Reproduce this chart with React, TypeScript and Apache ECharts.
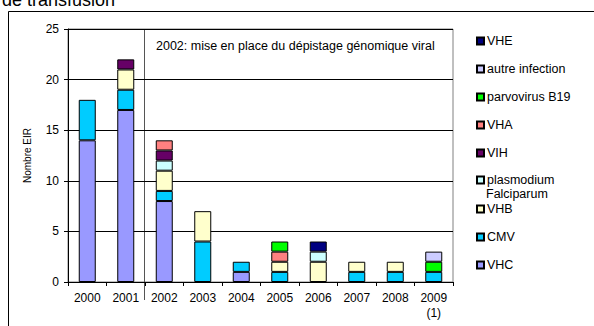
import React, { useEffect, useRef } from "react";
import * as echarts from "echarts";

const years = ["2000", "2001", "2002", "2003", "2004", "2005", "2006", "2007", "2008", "2009\n(1)"];
const yTicks = [0, 5, 10, 15, 20, 25];

const VHC = [14, 17, 8, 0, 1, 0, 0, 0, 0, 0];
const CMV = [4, 2, 1, 4, 1, 1, 0, 1, 1, 1];
const VHB = [0, 2, 2, 3, 0, 1, 2, 1, 1, 0];
const plasmodium = [0, 0, 1, 0, 0, 0, 1, 0, 0, 0];
const VIH = [0, 1, 1, 0, 0, 0, 0, 0, 0, 0];
const VHA = [0, 0, 1, 0, 0, 1, 0, 0, 0, 0];
const parvovirus = [0, 0, 0, 0, 0, 1, 0, 0, 0, 1];
const autre = [0, 0, 0, 0, 0, 0, 0, 0, 0, 1];
const VHE = [0, 0, 0, 0, 0, 0, 1, 0, 0, 0];

const seriesDefs = [
  { name: "VHC", data: VHC, color: "#9999FF" },
  { name: "CMV", data: CMV, color: "#00CCFF" },
  { name: "VHB", data: VHB, color: "#FFFFCC" },
  { name: "plasmodium", data: plasmodium, color: "#CCFFFF" },
  { name: "VIH", data: VIH, color: "#660066" },
  { name: "VHA", data: VHA, color: "#FF8080" },
  { name: "parvovirus B19", data: parvovirus, color: "#00FF00" },
  { name: "autre infection", data: autre, color: "#CCCCFF" },
  { name: "VHE", data: VHE, color: "#000080" },
];

// legend order top to bottom
const legendOrder = ["VHE", "autre infection", "parvovirus B19", "VHA", "VIH", "plasmodium", "VHB", "CMV", "VHC"];
const legendTops = [34, 62, 90, 118, 146, 173, 202, 230, 258];

const FONT = "Liberation Sans, Arial, sans-serif";

export default function App() {
  const ref = useRef<HTMLDivElement>(null);
  useEffect(() => {
    document.body.style.margin = "0";
    const chart = echarts.init(ref.current!, null, { renderer: "svg" });
    const option: any = {
      animation: false,
      backgroundColor: "#fff",
      textStyle: { fontFamily: FONT },
      grid: { left: 68, right: 141, top: 29, bottom: 44, show: true, borderColor: "#808080", borderWidth: 1 },
      legend: legendOrder.map((name, i) => ({
        data: [name],
        left: 476,
        top: legendTops[i],
        orient: "vertical",
        itemWidth: 7,
        itemHeight: 7,
        itemGap: 0,
        icon: "rect",
        selectedMode: false,
        textStyle: { fontSize: 12.5, color: "#000", fontFamily: FONT, padding: [0, 0, 0, -2], lineHeight: 14 },
        padding: 0,
      })),
      xAxis: {
        type: "category",
        data: years,
        axisLine: { lineStyle: { color: "#000" } },
        axisTick: { show: true, length: 4, lineStyle: { color: "#000" } },
        axisLabel: { color: "#000", fontSize: 12, margin: 8, lineHeight: 15, fontFamily: FONT },
      },
      yAxis: {
        type: "value",
        min: 0,
        max: 25,
        interval: 5,
        name: "Nombre EIR",
        nameLocation: "middle",
        nameGap: 36,
        nameTextStyle: { color: "#000", fontSize: 10, fontFamily: FONT },
        axisLine: { show: true, lineStyle: { color: "#000" } },
        axisTick: { show: true, length: 4, lineStyle: { color: "#000" } },
        axisLabel: { color: "#000", fontSize: 12, margin: 9, fontFamily: FONT, formatter: (v: number) => (yTicks.includes(v) ? String(v) : "") },
        splitLine: { show: true, lineStyle: { color: "#000", width: 1 } },
      },
      series: seriesDefs.map((s) => ({
        name: s.name,
        type: "bar",
        stack: "total",
        barWidth: 17,
        data: s.data.map((v) => (v === 0 ? null : v)),
        itemStyle: { color: s.color, borderColor: "#000", borderWidth: 1 },
      })),
      graphic: [
        {
          type: "rect",
          shape: { x: 8.5, y: 11.5, width: 700, height: 400 },
          style: { fill: "none", stroke: "#000", lineWidth: 1 },
          silent: true,
        },
        {
          type: "text",
          x: 2,
          y: 9,
          style: { text: "de transfusion", fontSize: 18, fontFamily: FONT, fill: "#000", textVerticalAlign: "bottom" },
        },
        {
          type: "text",
          x: 156,
          y: 46,
          style: { text: "2002: mise en place du dépistage génomique viral", fontSize: 12.5, fontFamily: FONT, fill: "#000", textVerticalAlign: "middle" },
        },
        {
          type: "text",
          x: 486,
          y: 194,
          style: { text: "Falciparum", fontSize: 12.5, fontFamily: FONT, fill: "#000", textVerticalAlign: "middle" },
        },
      ],
    };
    chart.setOption(option);
    // separator line between 2001 and 2002 category slots
    const p1 = chart.convertToPixel({ xAxisIndex: 0 }, years[1]) as number;
    const p2 = chart.convertToPixel({ xAxisIndex: 0 }, years[2]) as number;
    const top = chart.convertToPixel({ yAxisIndex: 0 }, 25) as number;
    const bottom = chart.convertToPixel({ yAxisIndex: 0 }, 0) as number;
    const xs = Math.round((p1 + p2) / 2) - 0.5;
    chart.setOption({
      graphic: [
        ...option.graphic,
        {
          type: "line",
          shape: { x1: xs, y1: top, x2: xs, y2: bottom + 18 },
          style: { stroke: "#555", lineWidth: 1 },
          silent: true,
        },
      ],
    });
    return () => chart.dispose();
  }, []);
  return <div ref={ref} style={{ width: 594, height: 326 }} />;
}
